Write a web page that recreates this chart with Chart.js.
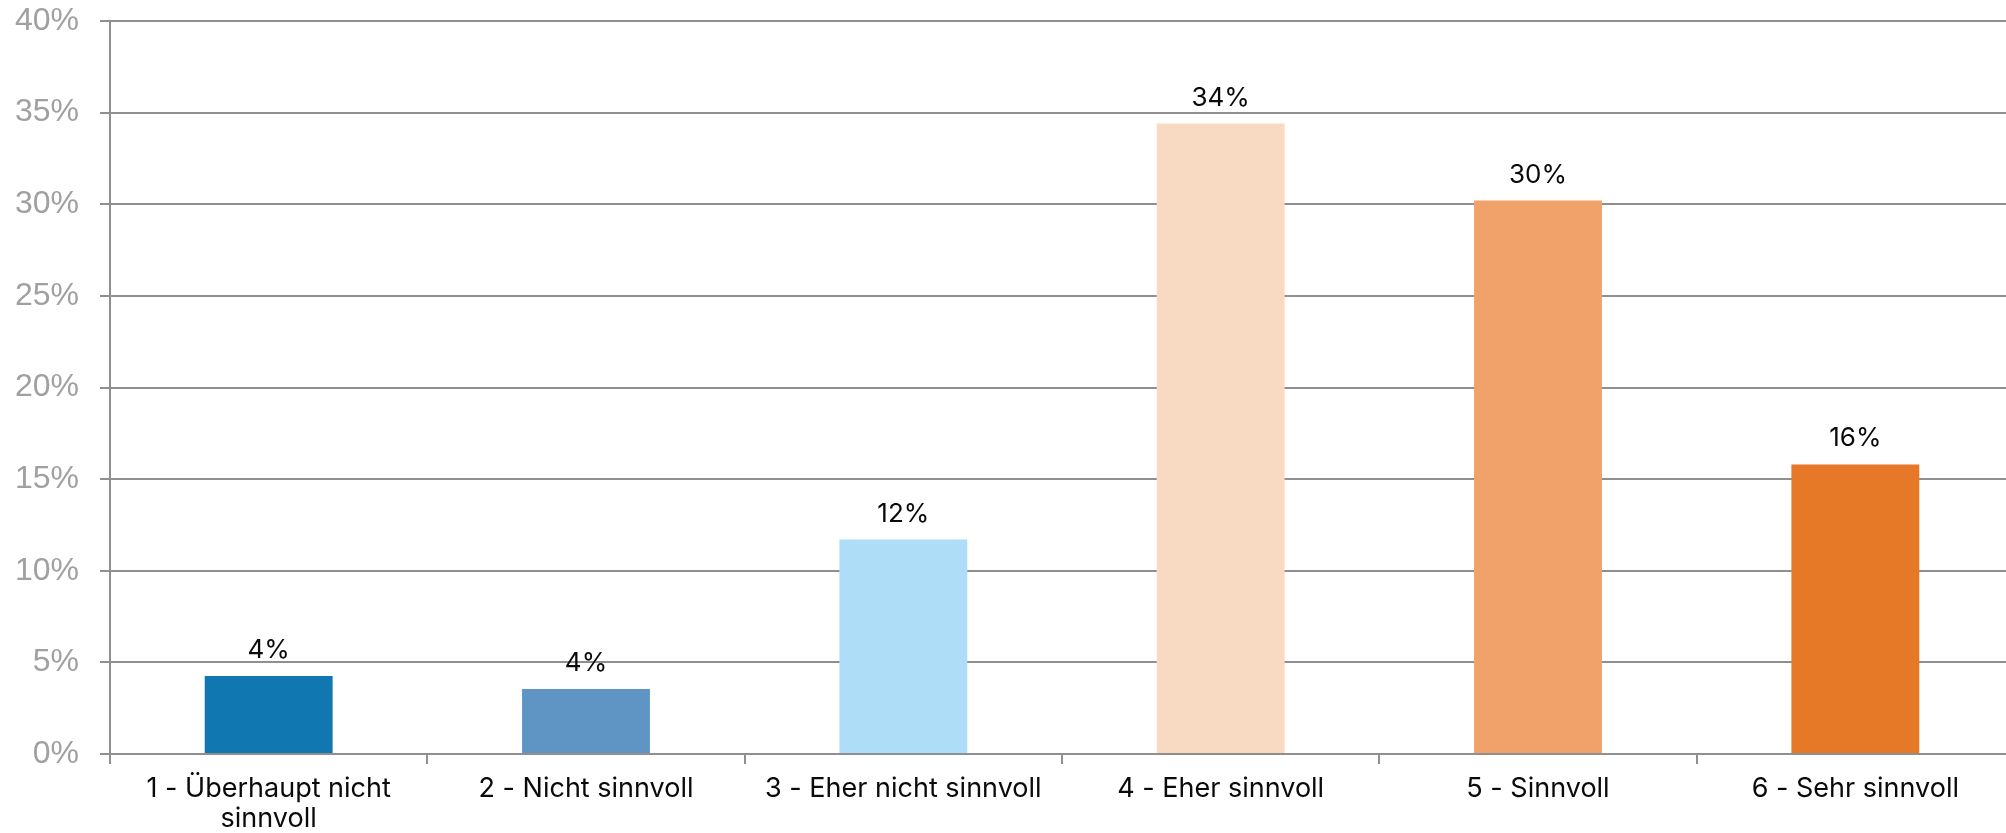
<!DOCTYPE html>
<html>
<head>
<meta charset="utf-8">
<script src="https://cdn.jsdelivr.net/npm/chart.js@4"></script>
<style>
html,body{margin:0;padding:0;background:#fff;overflow:hidden;}
#wrap{width:2014px;height:833px;}
</style>
</head>
<body>
<div id="wrap"><canvas id="c" width="2014" height="833"></canvas></div>
<script>
const categories = [
  ['1 - Überhaupt nicht', 'sinnvoll'],
  '2 - Nicht sinnvoll',
  '3 - Eher nicht sinnvoll',
  '4 - Eher sinnvoll',
  '5 - Sinnvoll',
  '6 - Sehr sinnvoll'
];
const values = [4.26, 3.55, 11.7, 34.4, 30.2, 15.8];
const valueLabels = ['4%', '4%', '12%', '34%', '30%', '16%'];
const barColors = ['#1177B0', '#5F95C4', '#AEDEF7', '#F8DAC2', '#F0A26A', '#E67927'];
const yTicks = [0, 5, 10, 15, 20, 25, 30, 35, 40];

const gridGray = '#8f8f8f';

const valueLabelPlugin = {
  id: 'valueLabels',
  afterDatasetsDraw(chart) {
    const ctx = chart.ctx;
    const meta = chart.getDatasetMeta(0);
    ctx.save();
    ctx.font = '26px Inter';
    ctx.fillStyle = '#0a0a0a';
    ctx.textAlign = 'center';
    ctx.textBaseline = 'alphabetic';
    meta.data.forEach((bar, i) => {
      ctx.fillText(valueLabels[i], bar.x, bar.y - 18);
    });
    ctx.restore();
  }
};

new Chart(document.getElementById('c'), {
  type: 'bar',
  data: {
    labels: categories,
    datasets: [{
      data: values,
      backgroundColor: barColors,
      borderWidth: 0,
      barPercentage: 0.403,
      categoryPercentage: 1
    }]
  },
  options: {
    responsive: false,
    devicePixelRatio: 1,
    animation: false,
    layout: { padding: { top: 21, right: 0, bottom: 0, left: 0 } },
    plugins: {
      legend: { display: false },
      tooltip: { enabled: false }
    },
    scales: {
      x: {
        grid: {
          drawOnChartArea: false,
          drawTicks: true,
          tickLength: 10,
          color: gridGray,
          lineWidth: 2,
          offset: true
        },
        border: { display: true, color: gridGray, width: 2 },
        ticks: {
          color: '#0a0a0a',
          font: { family: 'Inter', size: 27, lineHeight: 1.14 },
          padding: 9,
          maxRotation: 0,
          autoSkip: false
        },
        afterFit(scale) { scale.height = 79; scale.paddingLeft = 0; scale.paddingRight = 0; }
      },
      y: {
        min: 0,
        max: 40,
        afterBuildTicks(scale) { scale.ticks = yTicks.map(v => ({ value: v })); },
        grid: {
          drawTicks: true,
          tickLength: 10,
          color: gridGray,
          lineWidth: 2
        },
        border: { display: true, color: gridGray, width: 2 },
        ticks: {
          color: '#a0a0a0',
          font: { family: 'Liberation Sans', size: 32 },
          padding: 21,
          callback: v => v + '%'
        },
        afterFit(scale) { scale.width = 110; scale.paddingTop = 0; scale.paddingBottom = 0; }
      }
    }
  },
  plugins: [valueLabelPlugin]
});
</script>
</body>
</html>
